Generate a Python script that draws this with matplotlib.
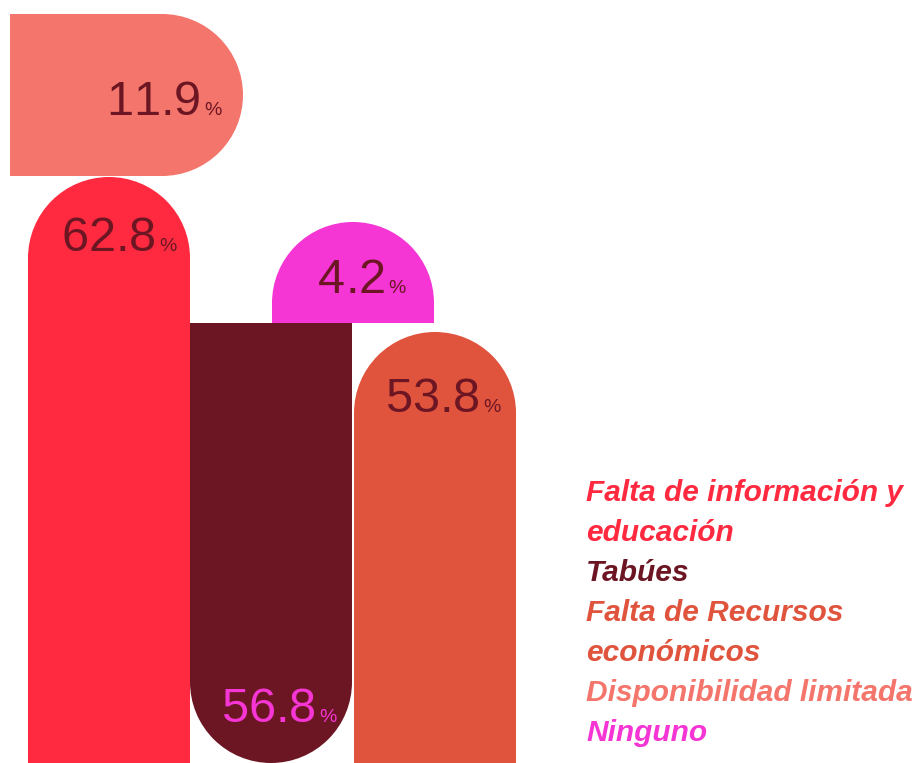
"""
Barreras de acceso - infographic of rounded bars.
"""

import matplotlib
matplotlib.use("Agg")
import matplotlib.pyplot as plt
from matplotlib.patches import Rectangle, Wedge

# data
categories = ["Falta de información y\neducación", "Tabúes",
              "Falta de Recursos\neconómicos", "Disponibilidad limitada", "Ninguno"]
values = [62.8, 56.8, 53.8, 11.9, 4.2]
colors = ["#FF2A40", "#6D1623", "#E0533D", "#F4756B", "#F535D4"]
label_colors = ["#6D1623", "#F535D4", "#6D1623", "#6D1623", "#6D1623"]

# layout in pixels: (x0, x1, y0, y1), rounded side, label (center x, baseline y)
layout = [
    ((28, 190, 177, 800), "top", (119, 251)),
    ((190, 352, 323, 763), "bottom", (279, 722)),
    ((354, 516, 332, 800), "top", (443, 412)),
    ((10, 243, 14, 176), "right", (164, 115)),
    ((272, 434, 222, 323), "top", (362, 293)),
]

W, H = 917, 763
fig = plt.figure(figsize=(W / 100, H / 100), dpi=100)
ax = fig.add_axes([0, 0, 1, 1])
ax.set_xlim(0, W)
ax.set_ylim(H, 0)
ax.axis("off")

font = "Liberation Sans"


def rounded_bar(ax, box, side, color):
    x0, x1, y0, y1 = box
    if side in ("top", "bottom"):
        r = (x1 - x0) / 2
        cx = x0 + r
        if side == "top":
            cy = y0 + r
            ax.add_patch(Rectangle((x0, cy), x1 - x0, y1 - cy, color=color, lw=0))
            # y axis is inverted: visual top half is 180..360
            ax.add_patch(Wedge((cx, cy), r, 180, 360, color=color, lw=0))
        else:
            cy = y1 - r
            ax.add_patch(Rectangle((x0, y0), x1 - x0, cy - y0, color=color, lw=0))
            ax.add_patch(Wedge((cx, cy), r, 0, 180, color=color, lw=0))
    else:
        r = (y1 - y0) / 2
        cy = y0 + r
        cx = x1 - r
        ax.add_patch(Rectangle((x0, y0), cx - x0, y1 - y0, color=color, lw=0))
        ax.add_patch(Wedge((cx, cy), r, -90, 90, color=color, lw=0))


fig.canvas.draw()
renderer = fig.canvas.get_renderer()

for val, col, lcol, (box, side, (lx, ly)) in zip(values, colors, label_colors, layout):
    rounded_bar(ax, box, side, col)
    # draw digits one by one so "11" isn't kerned together
    chars = []
    for ch in f"{val:.1f}":
        t = ax.text(0, ly, ch, fontsize=35, family=font, color=lcol,
                    va="baseline", ha="left")
        chars.append(t)
    pct = ax.text(0, ly, "%", fontsize=14, family=font, color=lcol,
                  va="baseline", ha="left")
    # advance widths (the bbox width of "1" is the glyph advance here)
    widths = []
    for t in chars:
        probe = ax.text(0, 0, "0" if t.get_text().isdigit() else ".",
                        fontsize=35, family=font)
        widths.append(probe.get_window_extent(renderer).width)
        probe.remove()
    wp = pct.get_window_extent(renderer).width
    gap = 3
    total = sum(widths) + gap + wp
    x = lx - total / 2
    for t, w in zip(chars, widths):
        t.set_x(x)
        if t.get_text() == "1":
            t.set_ha("center")
            t.set_x(x + w / 2)
        x += w
    pct.set_x(x + gap)

# legend as coloured text lines
y = 501
for cat, col in zip(categories, colors):
    for line in cat.split("\n"):
        ax.text(586, y, line, fontsize=21.5, family=font, fontweight="bold",
                fontstyle="italic", color=col, va="baseline", ha="left")
        y += 40

plt.savefig("out.png", dpi=100, facecolor="white")
